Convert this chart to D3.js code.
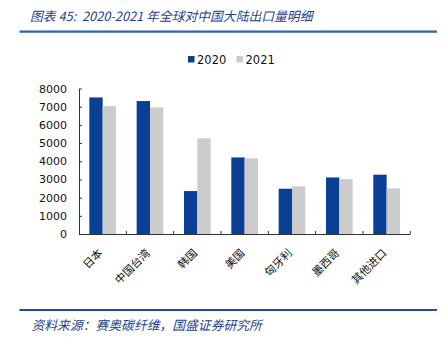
<!DOCTYPE html>
<html><head><meta charset="utf-8">
<script src="https://cdn.jsdelivr.net/npm/d3@7/dist/d3.min.js"></script>
<style>body{margin:0;background:#fff;}svg{display:block;}text{white-space:pre;}</style>
</head><body>
<svg id="c" width="447" height="348"></svg>
<script>
const categories = ["日本","中国台湾","韩国","美国","匈牙利","墨西哥","其他进口"];
const seriesNames = ["2020","2021"];
const values2020 = [7510, 7310, 2360, 4210, 2490, 3110, 3260];
const values2021 = [7030, 6960, 5260, 4160, 2620, 3020, 2510];
const yTicks = [0,1000,2000,3000,4000,5000,6000,7000,8000];
const colors = ["#0A3F96","#CCCCCC"];
const titleText = "图表 45:  2020-2021 年全球对中国大陆出口量明细";
const sourceText = "资料来源：赛奥碳纤维，国盛证券研究所";

(function(){
const svg = d3.select("#c");
const pLeft = 79, pRight = 410.3, pTop = 88.5, pBottom = 234;
const cjk = "'Noto Sans CJK SC', sans-serif";
const latin = "'DejaVu Sans', Verdana, sans-serif";

// title
svg.append("text").attr("x", 30).attr("y", 21)
  .attr("font-family", cjk).attr("font-size", 12.8).attr("font-style", "italic")
  .attr("fill", "#1F3F8F").text(titleText);
svg.append("line").attr("x1", 19.5).attr("x2", 437).attr("y1", 31.7).attr("y2", 31.7)
  .attr("stroke", "#2E62B0").attr("stroke-width", 2.2);
svg.append("line").attr("x1", 19.5).attr("x2", 437).attr("y1", 310).attr("y2", 310)
  .attr("stroke", "#1F4E9C").attr("stroke-width", 1.8);
svg.append("text").attr("x", 31.5).attr("y", 330)
  .attr("font-family", cjk).attr("font-size", 12.8).attr("font-style", "italic")
  .attr("fill", "#1F3F8F").text(sourceText);

const x = d3.scaleBand().domain(categories).range([pLeft, pRight]).padding(0);
const groupW = x.bandwidth() * 0.5634;
const x1 = d3.scaleBand().domain(seriesNames).range([0, groupW]).padding(0);
const y = d3.scaleLinear().domain([0, 8000]).range([pBottom, pTop]);

const data = categories.map((c,i)=>({c, v:[values2020[i], values2021[i]]}));
const g = svg.append("g");
data.forEach(d=>{
  d.v.forEach((v,j)=>{
    g.append("rect")
      .attr("x", x(d.c) + (x.bandwidth()-groupW)/2 + x1(seriesNames[j]))
      .attr("y", y(v)).attr("width", x1.bandwidth()).attr("height", y(0)-y(v))
      .attr("fill", colors[j]);
  });
});

// y axis
const yAxis = d3.axisLeft(y).tickValues(yTicks).tickSizeInner(-3).tickSizeOuter(0).tickPadding(12).tickFormat(d3.format("d"));
const ya = svg.append("g").attr("transform", `translate(${pLeft},0)`).call(yAxis);
ya.select(".domain").attr("stroke", "#333");
ya.selectAll(".tick line").attr("stroke", "#333");
ya.selectAll("text").attr("font-family", latin).attr("font-size", 11).attr("fill", "#111");

// x axis with boundary ticks
svg.append("line").attr("x1", pLeft).attr("x2", pRight).attr("y1", pBottom+0.5).attr("y2", pBottom+0.5).attr("stroke", "#333");
const bounds = categories.map(c=>x(c)).concat([pRight]).slice(1);
svg.selectAll(".xb").data(bounds).enter().append("line")
  .attr("x1", d=>d).attr("x2", d=>d).attr("y1", pBottom).attr("y2", pBottom-3).attr("stroke", "#333");
svg.selectAll(".xl").data(categories).enter().append("text")
  .attr("transform", d=>`translate(${x(d)+x.bandwidth()/2-2},251) rotate(-45)`)
  .attr("text-anchor", "end").attr("dy", "0.35em")
  .attr("font-family", cjk).attr("font-size", 11).attr("fill", "#111").text(d=>d);

// legend
const leg = [{x:188, t:"2020"},{x:236.5, t:"2021"}];
leg.forEach((l,i)=>{
  svg.append("rect").attr("x", l.x).attr("y", 56).attr("width", 6.5).attr("height", 6.5).attr("fill", colors[i]);
  svg.append("text").attr("x", l.x+9).attr("y", 63.5).attr("font-family", latin).attr("font-size", 11.5).attr("fill", "#111").text(l.t);
});
})();
</script>
</body></html>
